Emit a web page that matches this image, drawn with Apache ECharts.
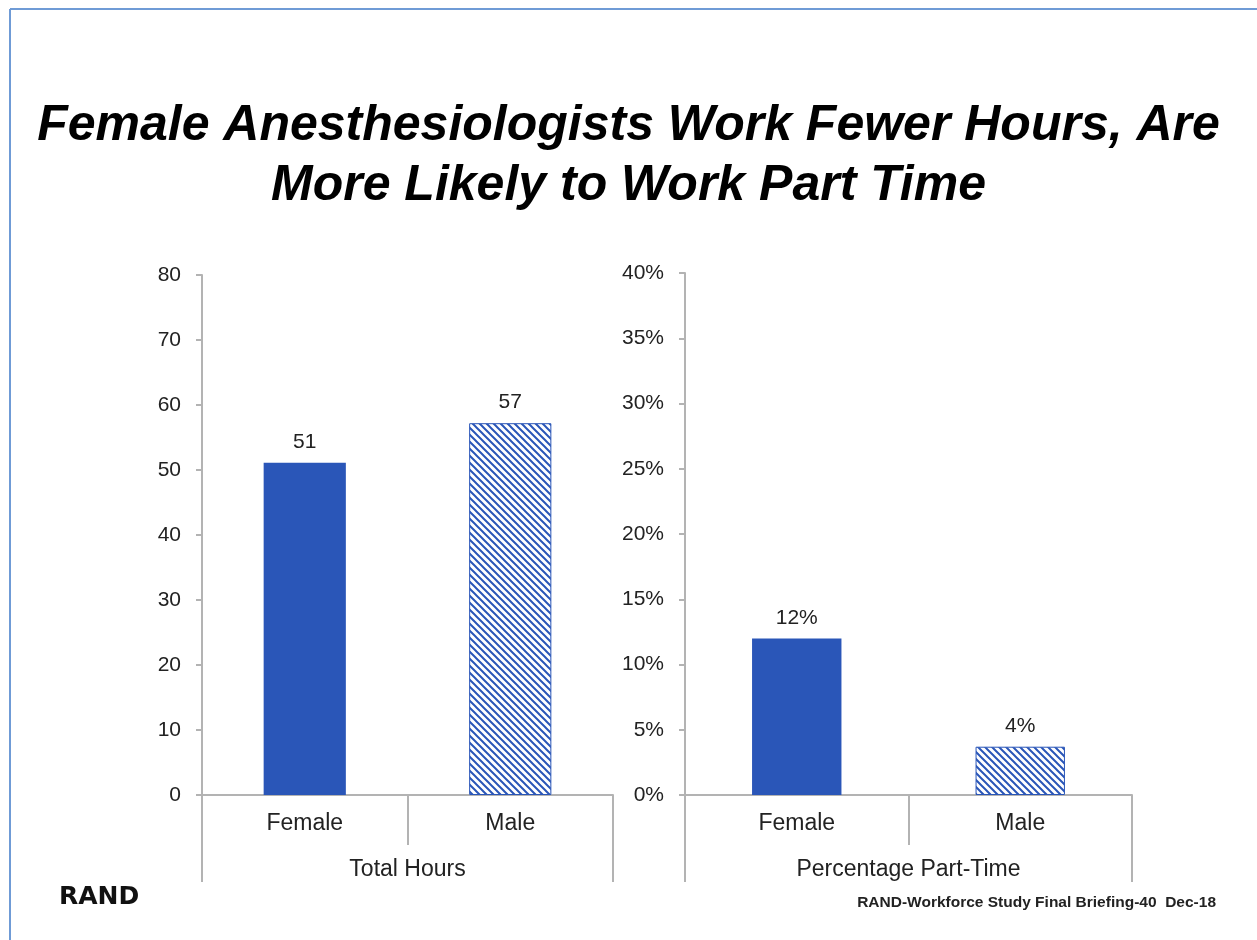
<!DOCTYPE html>
<html>
<head>
<meta charset="utf-8">
<script src="https://cdn.jsdelivr.net/npm/echarts@6/dist/echarts.min.js"></script>
<style>
  html, body { margin: 0; padding: 0; background: #fff; }
  #main { width: 1257px; height: 940px; }
</style>
</head>
<body>
<div id="main"></div>
<script>
var categories = ["Female", "Male"];
var hoursGroup = ["Total Hours"];
var partTimeGroup = ["Percentage Part-Time"];
var hoursValues = [51.1, 57.2];
var partTimeValues = [12, 3.7];
var hoursTicks = [0, 80, 10];     // min, max, interval
var partTimeTicks = [0, 40, 5];   // percent

var BLUE = "rgb(42, 86, 184)";
var FONT = "Liberation Sans, Arial, sans-serif";

// diagonal hatch for the male bars
function hatch(color) {
  var s = 7;
  var c = document.createElement("canvas");
  c.width = s;
  c.height = s;
  var g = c.getContext("2d");
  g.fillStyle = "#fff";
  g.fillRect(0, 0, s, s);
  g.strokeStyle = color;
  g.lineWidth = 2;
  g.beginPath();
  g.moveTo(-1, -1); g.lineTo(s + 1, s + 1);
  g.moveTo(-1, s - 1); g.lineTo(1, s + 1);
  g.moveTo(s - 1, -1); g.lineTo(s + 1, 1);
  g.stroke();
  return c;
}
var hatchImg = hatch(BLUE);

function barItems(values) {
  return values.map(function (v, i) {
    if (i === 0) return { value: v, itemStyle: { color: BLUE } };
    return {
      value: v,
      itemStyle: {
        color: { image: hatchImg, repeat: "repeat" },
        borderColor: BLUE,
        borderWidth: 1
      }
    };
  });
}

var axisGray = "#b3b3b3";
var tickLabel = { color: "#222", fontSize: 21, fontFamily: FONT };
var catLabel = { color: "#222", fontSize: 23, fontFamily: FONT };

function catAxis(grid, data, tickLen, margin, showLine) {
  return {
    type: "category",
    gridIndex: grid,
    data: data,
    position: "bottom",
    axisLine: { show: showLine, lineStyle: { color: axisGray, width: 2 } },
    axisTick: { show: true, alignWithLabel: false, length: tickLen, inside: false,
                lineStyle: { color: axisGray, width: 2 } },
    axisLabel: Object.assign({ margin: margin }, catLabel),
    splitLine: { show: false }
  };
}

function valAxis(grid, ticks, fmt) {
  return {
    type: "value",
    gridIndex: grid,
    min: ticks[0],
    max: ticks[1],
    interval: ticks[2],
    axisLine: { show: true, lineStyle: { color: axisGray, width: 2 } },
    axisTick: { show: true, length: 6, lineStyle: { color: axisGray, width: 2 } },
    axisLabel: Object.assign({ margin: 21, formatter: fmt }, tickLabel),
    splitLine: { show: false }
  };
}

var chart = echarts.init(document.getElementById("main"));
var option = {
  backgroundColor: "#fff",
  animation: false,
  title: [
    {
      text: "Female Anesthesiologists Work Fewer Hours, Are\nMore Likely to Work Part Time",
      left: "center",
      top: 91,
      textStyle: { fontSize: 50, fontWeight: "bold", fontStyle: "italic",
                   color: "#000", fontFamily: FONT, lineHeight: 60, align: "center" }
    },
    {
      text: "RAND",
      left: 54,
      top: 880,
      textStyle: { fontSize: 25, fontWeight: "bold", color: "#111", fontFamily: "DejaVu Sans, sans-serif" }
    },
    {
      text: "RAND-Workforce Study Final Briefing-40  Dec-18",
      right: 36,
      top: 890,
      textStyle: { fontSize: 15.5, fontWeight: "bold", color: "#222", fontFamily: FONT }
    }
  ],
  graphic: [
    { type: "line", shape: { x1: 10, y1: 9, x2: 1257, y2: 9 }, style: { stroke: "#6f9bd6", lineWidth: 2 } },
    { type: "line", shape: { x1: 10, y1: 9, x2: 10, y2: 940 }, style: { stroke: "#6f9bd6", lineWidth: 2 } }
  ],
  grid: [
    { left: 202, right: 644, top: 275, bottom: 145 },
    { left: 685, right: 125, top: 273, bottom: 145 }
  ],
  xAxis: [
    catAxis(0, categories, 50, 17, true),
    catAxis(0, hoursGroup, 87, 63, false),
    catAxis(1, categories, 50, 17, true),
    catAxis(1, partTimeGroup, 87, 63, false)
  ],
  yAxis: [
    valAxis(0, hoursTicks, "{value}"),
    valAxis(1, partTimeTicks, "{value}%")
  ],
  series: [
    {
      type: "bar",
      xAxisIndex: 0,
      yAxisIndex: 0,
      barWidth: "40%",
      data: barItems(hoursValues),
      label: Object.assign({
        show: true, position: "top", distance: 10,
        formatter: function (p) { return Math.round(p.value); }
      }, tickLabel)
    },
    {
      type: "bar",
      xAxisIndex: 2,
      yAxisIndex: 1,
      barWidth: "40%",
      data: barItems(partTimeValues),
      label: Object.assign({
        show: true, position: "top", distance: 10,
        formatter: function (p) { return Math.round(p.value) + "%"; }
      }, tickLabel)
    }
  ]
};

option && chart.setOption(option, true);
</script>
</body>
</html>
